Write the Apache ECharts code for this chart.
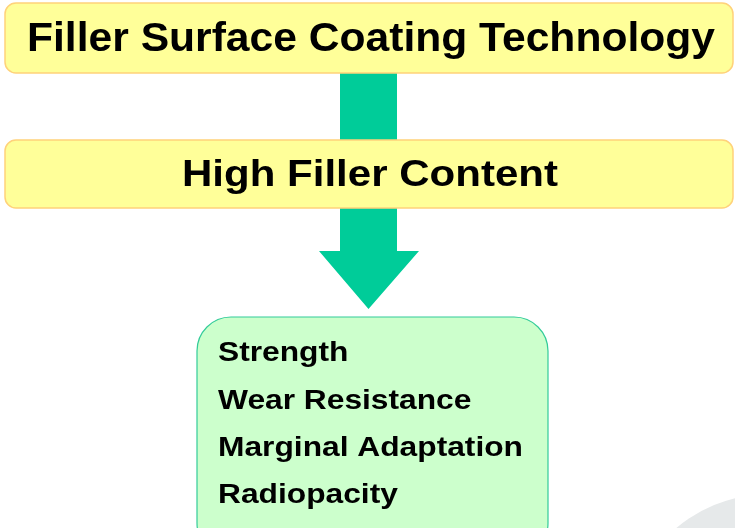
<!DOCTYPE html>
<html><head><meta charset="utf-8">
<script src="https://cdn.jsdelivr.net/npm/echarts@6/dist/echarts.min.js"></script>
<style>html,body{margin:0;padding:0;background:#fff}#c{width:735px;height:528px}</style>
</head><body><div id="c"></div>
<script>
// Diagram content
const stageTitles = ["Filler Surface Coating Technology", "High Filler Content"];
const benefits = ["Strength", "Wear Resistance", "Marginal Adaptation", "Radiopacity"];

const FAMILY = 'Liberation Sans';
const cvs = document.createElement('canvas').getContext('2d');
function measure(t, size) { cvs.font = 'bold ' + size + 'px "' + FAMILY + '"'; return cvs.measureText(t).width; }

const chart = echarts.init(document.getElementById('c'), null, {renderer: 'canvas'});
const yellow = '#ffff99', yellowBorder = '#ffd27a', green = '#00cc99';

const titleSpecs = [
  {box: [5, 3, 728, 70], size: 41, cy: 40, width: 688, cx: 371},
  {box: [5, 140, 728, 68], size: 37, cy: 176, width: 376, cx: 370}
];

function txt(t, size) {
  return {text: t, fill: '#000', fontFamily: FAMILY, fontSize: size, fontWeight: 'bold'};
}

const elements = [];
elements.push({type: 'circle', shape: {cx: 770, cy: 640, r: 146}, style: {fill: '#e6e9ea'}, z: 0});
elements.push({type: 'rect', shape: {x: 340, y: 72, width: 57, height: 70}, style: {fill: green}, z: 1});
elements.push({type: 'polygon', shape: {points: [[340, 206], [397, 206], [397, 251], [419, 251], [368.5, 309], [319, 251], [340, 251]]}, style: {fill: green}, z: 1});

stageTitles.forEach((t, i) => {
  const s = titleSpecs[i];
  elements.push({type: 'rect', shape: {x: s.box[0], y: s.box[1], width: s.box[2], height: s.box[3], r: 11},
    style: {fill: yellow, stroke: yellowBorder, lineWidth: 1.5}, z: 2});
  const w = measure(t, s.size);
  elements.push({type: 'text', x: s.cx, y: s.cy, scaleX: s.width / w, z: 3,
    style: Object.assign(txt(t, s.size), {align: 'center', verticalAlign: 'middle'})});
});

elements.push({type: 'rect', shape: {x: 197, y: 317, width: 351, height: 240, r: 34},
  style: {fill: '#ccffcc', stroke: '#33cc99', lineWidth: 1.2}, z: 2});
const lineSize = 27;
const scaleB = 305 / measure(benefits[2], lineSize);
benefits.forEach((b, i) => {
  elements.push({type: 'text', x: 218, y: 354 + i * 47.3, scaleX: scaleB, z: 3,
    style: Object.assign(txt(b, lineSize), {align: 'left', verticalAlign: 'middle'})});
});

chart.setOption({animation: false, graphic: {elements: elements}});
</script></body></html>
